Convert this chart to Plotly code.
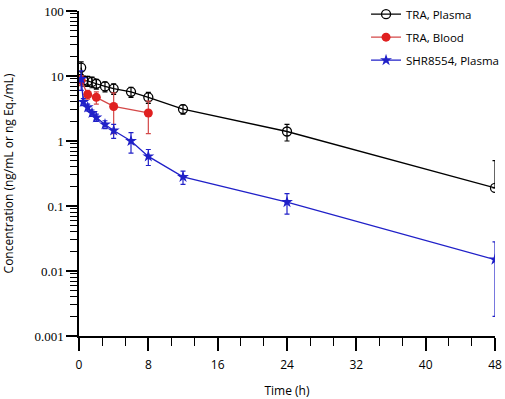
import plotly.graph_objects as go

# TRA, Plasma
tra_p_t = [0.25, 0.5, 1, 1.5, 2, 3, 4, 6, 8, 12, 24, 48]
tra_p_v = [13.5, 8.5, 8.4, 8.1, 7.6, 6.9, 6.4, 5.7, 4.7, 3.1, 1.4, 0.19]
tra_p_up = [3.0, 1.5, 1.5, 1.5, 1.3, 1.2, 1.2, 1.0, 0.9, 0.5, 0.4, 0.31]
tra_p_dn = [3.0, 1.5, 1.5, 1.5, 1.3, 1.2, 1.2, 1.0, 0.9, 0.5, 0.4, 0.0]

# TRA, Blood
tra_b_t = [0.25, 1, 2, 4, 8]
tra_b_v = [8.6, 5.2, 4.7, 3.4, 2.7]
tra_b_sd = [1.5, 0.8, 1.0, 2.1, 1.4]

# SHR8554, Plasma
shr_t = [0.25, 0.5, 1, 1.5, 2, 3, 4, 6, 8, 12, 24, 48]
shr_v = [9.0, 4.0, 3.3, 2.7, 2.3, 1.8, 1.45, 1.0, 0.58, 0.28, 0.115, 0.015]
shr_sd = [3.0, 0.5, 0.4, 0.3, 0.3, 0.25, 0.35, 0.35, 0.16, 0.065, 0.04, 0.013]

x_ticks = [0, 8, 16, 24, 32, 40, 48]
y_ticks = [0.001, 0.01, 0.1, 1, 10, 100]
y_labels = ["0.001", "0.01", "0.1", "1", "10", "100"]
y_minor = [d * m for d in y_ticks[:-1] for m in range(2, 10)]

BLACK = "#000000"
RED = "#e02020"
RED_LINE = "#d44848"
BLUE = "#2020c8"

fig = go.Figure()

fig.add_trace(go.Scatter(
    x=tra_p_t, y=tra_p_v, mode="lines+markers", name="TRA, Plasma", legendgroup="a",
    line=dict(color=BLACK, width=1.3),
    marker=dict(symbol="circle-open", size=9, color=BLACK, line=dict(width=1.3)),
    error_y=dict(type="data", symmetric=False, array=tra_p_up, arrayminus=tra_p_dn,
                 color=BLACK, thickness=1.2, width=2.5),
))
fig.add_trace(go.Scatter(
    x=tra_b_t, y=tra_b_v, mode="lines+markers", name="TRA, Blood", legendgroup="b",
    line=dict(color=RED_LINE, width=1.3),
    marker=dict(symbol="circle", size=9, color=RED),
    error_y=dict(type="data", array=tra_b_sd, color=RED_LINE, thickness=1.2, width=2.5),
))
fig.add_trace(go.Scatter(
    x=shr_t, y=shr_v, mode="lines+markers", name="SHR8554, Plasma", legendgroup="c",
    line=dict(color=BLUE, width=1.3),
    marker=dict(symbol="star", size=9, color=BLUE),
    error_y=dict(type="data", array=shr_sd, color=BLUE, thickness=1.2, width=2.5),
))

tick_font = dict(family="Liberation Serif, Times New Roman, serif", size=13, color="#000")
sans = "Open Sans, Noto Sans, sans-serif"
title_font = dict(family=sans, size=12, color="#000")

fig.update_layout(
    width=505, height=399,
    margin=dict(l=79, r=10, t=11, b=63, autoexpand=False),
    paper_bgcolor="white", plot_bgcolor="white",
    showlegend=True,
    legend=dict(x=0.69, y=1.035, xanchor="left", yanchor="top",
                font=dict(family=sans, size=11.5, color="#000"),
                bgcolor="rgba(0,0,0,0)", itemwidth=30, tracegroupgap=4),
    xaxis=dict(
        range=[0, 48], tickvals=x_ticks, ticktext=[str(v) for v in x_ticks],
        automargin=False,
        showgrid=False, zeroline=False, showline=True, linecolor="#000", linewidth=1.5,
        ticks="outside", ticklen=13, tickwidth=1.5, tickcolor="#000",
        ticklabelstandoff=4,
        tickfont=dict(family=sans, size=12, color="#000"),
        minor=dict(dtick=8/3, tick0=0, ticks="outside", ticklen=8, tickwidth=1.2, tickcolor="#000", showgrid=False),
        title=dict(text="Time (h)", font=title_font, standoff=23),
    ),
    yaxis=dict(
        type="log", range=[-3, 2], tickvals=y_ticks, ticktext=y_labels,
        automargin=False,
        showgrid=False, zeroline=False, showline=True, linecolor="#000", linewidth=1.5,
        ticks="outside", ticklen=11, tickwidth=1.5, tickcolor="#000",
        tickfont=tick_font,
        minor=dict(tickvals=y_minor, ticks="outside", ticklen=7, tickwidth=1, tickcolor="#000", showgrid=False),
        title=dict(text="Concentration (ng/mL or ng Eq./mL)", font=title_font, standoff=18),
    ),
)

fig.write_html("out.html", config={"displayModeBar": False},
               post_script="document.body.style.margin='0';document.body.style.overflow='hidden';")
